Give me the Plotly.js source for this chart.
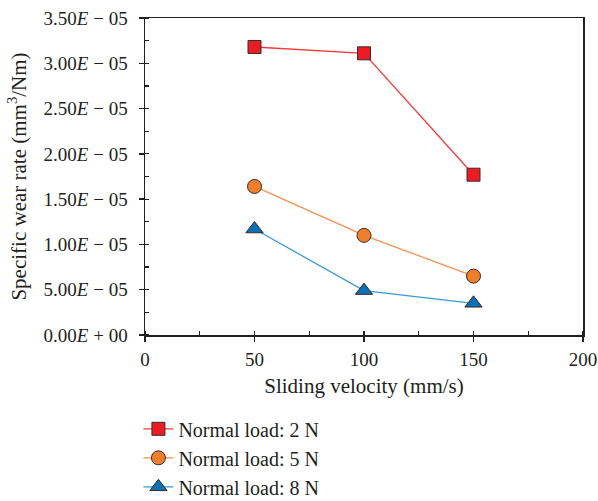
<!DOCTYPE html>
<html>
<head>
<meta charset="utf-8">
<script src="https://cdn.plot.ly/plotly-3.0.1.min.js"></script>
<style>html,body{margin:0;padding:0;background:#fff}#chart{width:598px;height:501px}</style>
</head>
<body>
<div id="chart"></div>
<script>
const velocity = [50, 100, 150];
const wear2N = [3.18e-5, 3.11e-5, 1.77e-5];
const wear5N = [1.64e-5, 1.10e-5, 0.65e-5];
const wear8N = [1.17e-5, 0.49e-5, 0.35e-5];
const seriesNames = ["Normal load: 2 N", "Normal load: 5 N", "Normal load: 8 N"];
const yTickVals = [0, 0.5e-5, 1.0e-5, 1.5e-5, 2.0e-5, 2.5e-5, 3.0e-5, 3.5e-5];
const yTickText = ["0.00<i>E</i> + 00", "5.00<i>E</i> − 05", "1.00<i>E</i> − 05", "1.50<i>E</i> − 05",
                   "2.00<i>E</i> − 05", "2.50<i>E</i> − 05", "3.00<i>E</i> − 05", "3.50<i>E</i> − 05"];
const xTickVals = [0, 50, 100, 150, 200];

const font = "Liberation Serif, Times New Roman, serif";
const ink = "#231f20";
const mk = (x, y, name, lineColor, fill, symbol, size) => ({
  x: x, y: y, name: name, type: "scatter", mode: "lines+markers",
  line: {color: lineColor, width: 1.3},
  marker: {symbol: symbol, size: size, color: fill, line: {color: "#3a2a2a", width: 1}}
});
const data = [
  mk(velocity, wear2N, seriesNames[0], "#f0383c", "#ed1c24", "square", 13),
  mk(velocity, wear5N, seriesNames[1], "#f7904f", "#f07f2c", "circle", 14),
  mk(velocity, wear8N, seriesNames[2], "#3a9ad4", "#0d70b3", "triangle-up", 15)
];
const axisCommon = {
  showline: true, linecolor: ink, linewidth: 1.5, mirror: true,
  showgrid: false, zeroline: false,
  ticks: "outside", ticklen: 5, tickwidth: 1.3, tickcolor: ink,
  tickfont: {family: font, size: 19, color: ink}
};
const innerTicks = {
  showline: false, showgrid: false, zeroline: false, showticklabels: false,
  ticks: "inside", ticklen: 5, tickwidth: 1.3, tickcolor: ink, fixedrange: true
};
const layout = {
  width: 598, height: 501,
  margin: {l: 145, r: 15, t: 18, b: 166},
  paper_bgcolor: "#fff", plot_bgcolor: "#fff",
  font: {family: font, size: 19, color: ink},
  showlegend: true,
  legend: {x: -0.015, xanchor: "left", yref: "container", y: 0.183, yanchor: "top",
           bgcolor: "rgba(0,0,0,0)", font: {family: font, size: 20, color: ink}, tracegroupgap: 0},
  xaxis: Object.assign({}, axisCommon, {
    range: [0, 200], tickvals: xTickVals, ticktext: xTickVals.map(String),
    minor: {dtick: 25, ticks: "inside", ticklen: 4, tickwidth: 1.2, tickcolor: ink},
    ticklabelstandoff: 2,
    title: {text: "Sliding velocity (mm/s)", font: {family: font, size: 21, color: ink}, standoff: 9}
  }),
  yaxis: Object.assign({}, axisCommon, {
    range: [0, 3.5e-5], tickvals: yTickVals, ticktext: yTickText,
    minor: {dtick: 0.25e-5, ticks: "inside", ticklen: 4, tickwidth: 1.2, tickcolor: ink},
    ticklabelstandoff: 7,
    title: {text: "Specific wear rate (mm<sup>3</sup>/Nm)", font: {family: font, size: 21, color: ink}, standoff: 11}
  }),
  xaxis2: Object.assign({}, innerTicks, {overlaying: "x", anchor: "y", side: "bottom", range: [0, 200], tickvals: xTickVals}),
  yaxis2: Object.assign({}, innerTicks, {overlaying: "y", anchor: "x", side: "left", range: [0, 3.5e-5], tickvals: yTickVals})
};
Plotly.newPlot("chart", data, layout, {displayModeBar: false, staticPlot: true});
</script>
</body>
</html>
